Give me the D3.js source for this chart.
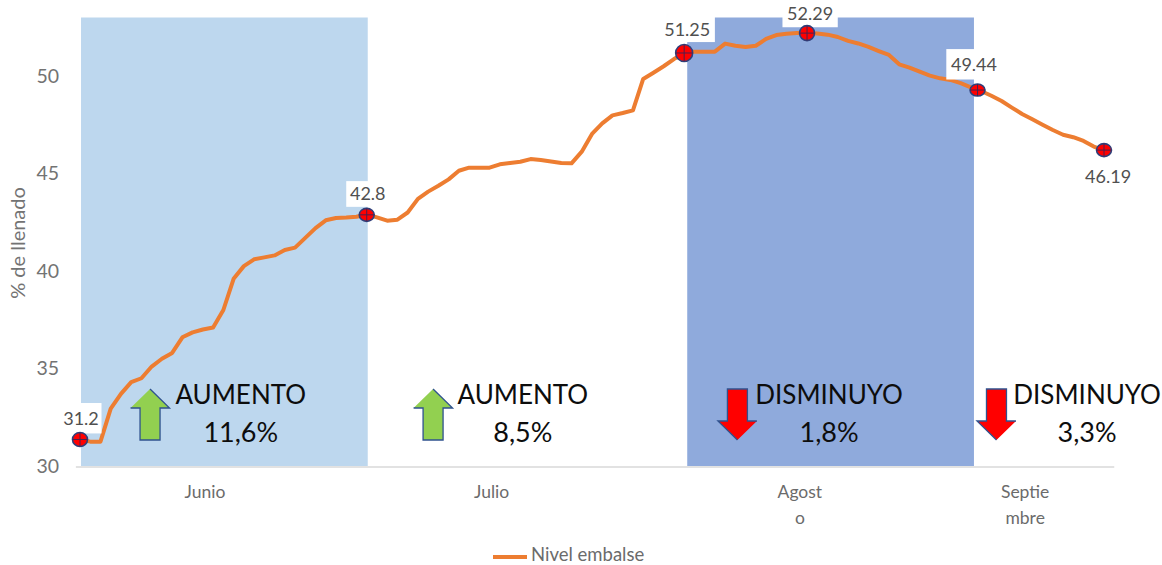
<!DOCTYPE html>
<html><head><meta charset="utf-8">
<script src="https://cdn.jsdelivr.net/npm/d3@7/dist/d3.min.js"></script>
<style>html,body{margin:0;padding:0;background:#fff}svg{display:block}text{font-family:Lato,"Open Sans",sans-serif}</style>
</head><body><svg id="c" width="1162" height="565"></svg>
<script>
// Daily reservoir level
const nivel = [31.36,31.25,31.25,32.94,33.7,34.3,34.5,35.1,35.5,35.8,36.6,36.85,37.0,37.1,38.0,39.6,40.25,40.6,40.7,40.8,41.08,41.2,41.7,42.2,42.6,42.72,42.74,42.78,42.9,
 42.75,42.58,42.63,43.0,43.7,44.07,44.37,44.7,45.14,45.3,45.3,45.3,45.47,45.54,45.6,45.74,45.69,45.62,45.54,45.52,46.12,47.03,47.57,47.98,48.1,48.24,49.85,50.17,50.5,50.87,51.16,
 51.25,51.25,51.25,51.66,51.55,51.49,51.55,51.9,52.1,52.17,52.2,52.2,52.18,52.12,52.0,51.8,51.67,51.49,51.28,51.08,50.6,50.43,50.22,50.02,49.88,49.8,49.63,49.42,49.23,
 48.99,48.72,48.38,48.05,47.78,47.5,47.23,46.99,46.86,46.67,46.38,46.2];
const yTicks = [30,35,40,45,50];
const meses = ["Junio","Julio","Agost\no","Septie\nmbre"];
const mesPos = [12.2,40.2,70.3,92.3];
// shaded months (day index)
const bandStart = [0.1,59.3];
const bandEnd = [28.1,87.3];
const bandColor = ["#BDD7EE","#8FAADC"];
// highlighted points
const markIdx = [0,28,59,71,87.65,100];
const markVal = [31.36,42.88,51.18,52.2,49.28,46.2];
const markRx = [7.5,7.5,8.5,7.5,7.5,7.5];
const markRy = [7,6.5,8.5,7.5,6,6.5];
const markLabel = ["31.2","42.8","51.25","52.29","49.44","46.19"];
const labelIdx = [0.1,28.1,59.3,71.3,87.3,100.4];
const labelVal = [32.45,43.95,52.4,53.2,50.6,44.85];
// white label boxes: half-width in index units, half-height in value units
const labelBoxW = [2.0,2.1,2.7,2.7,2.7,2.7];
const labelBoxH = [0.78,0.66,0.66,0.7,0.78,0.66];
// annotations
const annWord = ["AUMENTO","AUMENTO","DISMINUYO","DISMINUYO"];
const annPct = ["11,6%","8,5%","1,8%","3,3%"];
const annIdx = [15.7,43.25,73.15,98.35];
const arrowIdx = [6.84,34.48,64.2,89.5];
const arrowUp = [true,true,false,false];

const svg = d3.select("#c");
const x = d3.scaleLinear().domain([0,100]).range([80,1104]);
const y = d3.scaleLinear().domain([30,53]).range([466,17.5]);

svg.append("g").selectAll("rect").data(bandStart).join("rect")
 .attr("x",d=>x(d)).attr("width",(d,i)=>x(bandEnd[i])-x(d))
 .attr("y",y(53)).attr("height",y(30)-y(53)).attr("fill",(d,i)=>bandColor[i]);

// y axis
const gy = svg.append("g").attr("transform","translate(67,0)")
 .call(d3.axisLeft(y).tickValues(yTicks).tickSize(0).tickPadding(8));
gy.select(".domain").remove();
gy.selectAll("text").attr("font-size",19.5).attr("fill","#737373").style("font-family","Lato");

// x axis line
svg.append("line").attr("x1",x(-0.4)).attr("x2",x(101)).attr("y1",y(30)+1).attr("y2",y(30)+1)
 .attr("stroke","#D9D9D9").attr("stroke-width",1.5);

// month labels
const gm = svg.append("g").selectAll("text").data(meses).join("text")
 .attr("text-anchor","middle").attr("font-size",17.5).attr("fill","#6b6b6b");
gm.each(function(d,i){
  d3.select(this).selectAll("tspan").data(d.split("\n")).join("tspan")
   .attr("x",x(mesPos[i])).attr("y",(t,j)=>498+j*26).text(t=>t);
});

// y title
svg.append("text").attr("transform","translate(25,243) rotate(-90)").attr("text-anchor","middle")
 .attr("font-size",20).attr("fill","#737373").text("% de llenado");

// line
svg.append("path").datum(nivel)
 .attr("d",d3.line().x((d,i)=>x(i)).y(d=>y(d)))
 .attr("fill","none").attr("stroke","#ED7D31").attr("stroke-width",4).attr("stroke-linejoin","round");

// label boxes + labels
svg.append("g").selectAll("rect").data(markLabel).join("rect")
 .attr("x",(d,i)=>x(labelIdx[i]-labelBoxW[i])).attr("width",(d,i)=>x(labelBoxW[i]*2)-x(0))
 .attr("y",(d,i)=>y(labelVal[i]+labelBoxH[i])).attr("height",(d,i)=>y(0)-y(labelBoxH[i]*2))
 .attr("fill","#fff");
svg.append("g").selectAll("text").data(markLabel).join("text")
 .attr("x",(d,i)=>x(labelIdx[i])).attr("y",(d,i)=>y(labelVal[i]))
 .attr("dy","0.35em").attr("text-anchor","middle").attr("font-size",18).attr("fill","#505050").text(d=>d);

// markers
const mk = svg.append("g").selectAll("g").data(markIdx).join("g")
 .attr("transform",(d,i)=>`translate(${x(d)},${y(markVal[i])})`);
mk.append("ellipse").attr("rx",(d,i)=>markRx[i]).attr("ry",(d,i)=>markRy[i])
 .attr("fill","#FF0000").attr("stroke","#2F3F7A").attr("stroke-width",1.6);
mk.append("line").attr("x1",(d,i)=>-markRx[i]).attr("x2",(d,i)=>markRx[i]).attr("stroke","#4A2050").attr("stroke-width",1);
mk.append("line").attr("y1",(d,i)=>-markRy[i]).attr("y2",(d,i)=>markRy[i]).attr("stroke","#4A2050").attr("stroke-width",1);

// arrows (drawn from a unit shape placed with the scales)
const arrowShape = [[0,-25.5],[19.5,-6.5],[10,-6.5],[10,25.5],[-10,25.5],[-10,-6.5],[-19.5,-6.5]];
svg.append("g").selectAll("path").data(arrowIdx).join("path")
 .attr("transform",(d,i)=>`translate(${x(d)},${y(32.64)})${arrowUp[i]?"":" rotate(180)"}`)
 .attr("d",d3.line()(arrowShape))
 .attr("fill",(d,i)=>arrowUp[i]?"#92D050":"#FF0000")
 .attr("stroke","#2F528F").attr("stroke-width",1.3);

// annotation text
svg.append("g").selectAll("text").data(annWord).join("text")
 .attr("x",(d,i)=>x(annIdx[i])).attr("y",y(33.2)).attr("text-anchor","middle")
 .attr("font-size",26).attr("fill","#0d0d0d").text(d=>d);
svg.append("g").selectAll("text").data(annPct).join("text")
 .attr("x",(d,i)=>x(annIdx[i])).attr("y",y(31.25)).attr("text-anchor","middle")
 .attr("font-size",27).attr("fill","#0d0d0d").text(d=>d);

// legend
svg.append("line").attr("x1",493).attr("x2",527).attr("y1",557).attr("y2",557)
 .attr("stroke","#ED7D31").attr("stroke-width",4);
svg.append("text").attr("x",531).attr("y",561).attr("font-size",18.5).attr("fill","#6b6b6b").text("Nivel embalse");
</script></body></html>
